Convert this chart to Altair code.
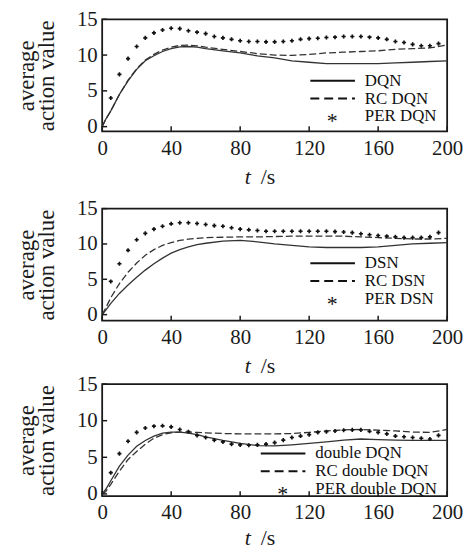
import altair as alt
import pandas as pd

# ---------------- data ----------------
t_line = [0, 2, 5, 10, 15, 20, 25, 30, 35, 40, 45, 50, 55, 60, 70, 80, 90,
          100, 110, 120, 130, 140, 150, 160, 170, 180, 190, 200]
t_dots = list(range(5, 200, 5))

dqn = [0, 1.0, 2.2, 4.5, 6.4, 8.0, 9.2, 9.9, 10.5, 10.9, 11.15, 11.2, 11.1, 10.9,
       10.6, 10.3, 9.9, 9.6, 9.2, 9.0, 8.8, 8.8, 8.8, 8.8, 8.9, 9.0, 9.1, 9.2]
rc_dqn = [0, 1.0, 2.2, 4.5, 6.5, 8.1, 9.3, 10.1, 10.7, 11.1, 11.35, 11.4, 11.3, 11.1,
          10.8, 10.5, 10.2, 10.0, 9.95, 10.1, 10.3, 10.4, 10.5, 10.6, 10.8, 10.9, 11.0, 11.4]
per_dqn = [4.0, 7.3, 9.5, 11.2, 12.4, 13.1, 13.5, 13.75, 13.7, 13.4,
           13.2, 13.0, 12.6, 12.4, 12.2, 12.0, 11.9, 11.9, 11.85, 11.85,
           11.9, 12.0, 12.2, 12.3, 12.35, 12.45, 12.5, 12.6, 12.6, 12.6,
           12.5, 12.4, 12.2, 11.9, 11.75, 11.5, 11.3, 11.3, 11.6]

dsn = [0, 0.6, 1.6, 3.0, 4.2, 5.3, 6.3, 7.2, 8.0, 8.7, 9.2, 9.6, 9.9, 10.1,
       10.4, 10.5, 10.3, 10.0, 9.8, 9.6, 9.5, 9.5, 9.5, 9.6, 9.8, 10.0, 10.1, 10.2]
rc_dsn = [0, 0.9, 2.4, 4.4, 6.0, 7.3, 8.4, 9.2, 9.8, 10.2, 10.5, 10.7, 10.8, 10.9,
          10.95, 11.0, 11.0, 11.05, 11.1, 11.1, 11.1, 11.1, 11.0, 10.9, 10.8, 10.7, 10.7, 10.8]
per_dsn = [4.7, 7.2, 9.1, 10.6, 11.5, 12.1, 12.5, 12.85, 13.0, 13.0,
           12.9, 12.75, 12.6, 12.5, 12.3, 12.1, 12.0, 11.9, 11.8, 11.8,
           11.8, 11.8, 11.8, 11.8, 11.8, 11.8, 11.75, 11.7, 11.6, 11.45,
           11.3, 11.2, 11.1, 11.0, 10.9, 10.9, 10.9, 11.0, 11.6]

ddqn = [0, 0.6, 1.8, 3.8, 5.3, 6.5, 7.3, 7.9, 8.3, 8.45, 8.45, 8.3, 8.1, 7.8,
        7.3, 6.9, 6.6, 6.55, 6.7, 6.9, 7.1, 7.35, 7.5, 7.4, 7.35, 7.3, 7.3, 7.3]
rc_ddqn = [0, 0.3, 1.3, 3.1, 4.7, 5.8, 6.8, 7.6, 8.1, 8.35, 8.45, 8.45, 8.4, 8.35,
           8.25, 8.2, 8.2, 8.2, 8.25, 8.4, 8.6, 8.75, 8.8, 8.7, 8.6, 8.45, 8.4, 8.8]
per_ddqn = [2.9, 5.5, 7.2, 8.4, 9.0, 9.25, 9.3, 9.15, 8.8, 8.5,
            8.0, 7.7, 7.35, 7.1, 6.8, 6.7, 6.65, 6.7, 6.8, 7.0,
            7.35, 7.7, 7.9, 8.1, 8.4, 8.5, 8.6, 8.7, 8.75, 8.75,
            8.55, 8.4, 8.2, 7.9, 7.8, 7.7, 7.6, 7.5, 8.0]

names_1 = ["DQN", "RC DQN", "PER DQN"]
names_2 = ["DSN", "RC DSN", "PER DSN"]
names_3 = ["double DQN", "RC double DQN", "PER double DQN"]

x_ticks = [0, 40, 80, 120, 160, 200]
y_ticks = [0, 5, 10, 15]
y_title = ["average", "action value"]

# ---------------- layout ----------------
W, H = 348, 113
FONT = "Liberation Serif"
INK = "#1a1a1a"


def panel(solid, dashed, dots, names, ymin, leg_top, leg_x0, xt_off):
    xs = alt.Scale(domain=[0, 200], nice=False, zero=False)
    ys = alt.Scale(domain=[ymin, 15], nice=False, zero=False)
    x_axis = alt.Axis(values=x_ticks, ticks=False, domain=False, grid=False,
                      labelFont=FONT, labelFontSize=21, labelColor=INK,
                      labelPadding=6, title=None, labelFlush=False,
                      labelOverlap=False)
    y_axis = alt.Axis(values=y_ticks, ticks=False, domain=False, grid=False,
                      labelFont=FONT, labelFontSize=21, labelColor=INK,
                      labelPadding=5, labelOverlap=False, labelFlush=False,
                      title=y_title, titleFont=FONT,
                      titleFontSize=23, titleFontWeight="normal",
                      titleColor=INK, titleLineHeight=20, titlePadding=18)

    X = lambda f: alt.X(f, scale=xs, axis=x_axis)
    Y = lambda f: alt.Y(f, scale=ys, axis=y_axis)

    df_l = pd.DataFrame({"t": t_line, "a": solid, "b": dashed})
    df_d = pd.DataFrame({"t": t_dots, "v": dots})

    solid_l = alt.Chart(df_l).mark_line(color="#333", strokeWidth=1.3).encode(
        x=X("t:Q"), y=Y("a:Q"))
    dash_l = alt.Chart(df_l).mark_line(color="#333", strokeWidth=1.3,
                                       strokeDash=[7, 3]).encode(
        x=X("t:Q"), y=Y("b:Q"))
    pts = alt.Chart(df_d).mark_point(shape="cross", filled=True, color="#111",
                                     size=17, opacity=1).encode(
        x=X("t:Q"), y=Y("v:Q"))

    xt = alt.Chart(pd.DataFrame({"t": x_ticks})).mark_rule(
        color=INK, strokeWidth=1.5).encode(
        x=X("t:Q"), y=alt.value(H), y2=alt.value(H - 5))
    yt = alt.Chart(pd.DataFrame({"v": y_ticks})).mark_rule(
        color=INK, strokeWidth=1.5).encode(
        y=Y("v:Q"), x=alt.value(0), x2=alt.value(5))

    # legend (drawn inside the plot)
    dy = 18
    lg = []
    lg.append(alt.Chart().mark_rule(color="#111", strokeWidth=2).encode(
        x=alt.value(leg_x0), x2=alt.value(leg_x0 + 45), y=alt.value(leg_top)))
    lg.append(alt.Chart().mark_rule(color="#111", strokeWidth=2,
                                    strokeDash=[9, 5]).encode(
        x=alt.value(leg_x0), x2=alt.value(leg_x0 + 45),
        y=alt.value(leg_top + dy)))
    lg.append(alt.Chart().mark_text(text="*", font=FONT, fontSize=22,
                                    color="#111", baseline="middle").encode(
        x=alt.value(leg_x0 + 22), y=alt.value(leg_top + 2 * dy + 5)))
    for i, nm in enumerate(names):
        lg.append(alt.Chart().mark_text(text=nm, font=FONT, fontSize=17,
                                        color="#111", align="left",
                                        baseline="middle").encode(
            x=alt.value(leg_x0 + 55), y=alt.value(leg_top + i * dy)))

    # x title "t /s" with italic t
    tt = alt.Chart().mark_text(text="t", font=FONT, fontSize=22, fontStyle="italic",
                               color=INK, align="right", baseline="middle").encode(
        x=alt.value(150), y=alt.value(H + xt_off))
    ts = alt.Chart().mark_text(text="/s", font=FONT, fontSize=22,
                               color=INK, align="left", baseline="middle").encode(
        x=alt.value(160), y=alt.value(H + xt_off))

    return alt.layer(solid_l, dash_l, pts, xt, yt, *lg, tt, ts).properties(
        width=W, height=H)


p1 = panel(dqn, rc_dqn, per_dqn, names_1, -0.65, 62, 210, 46)
p2 = panel(dsn, rc_dsn, per_dsn, names_2, -0.85, 55, 210, 46)
p3 = panel(ddqn, rc_ddqn, per_ddqn, names_3, -0.3, 70, 160, 42)

chart = alt.vconcat(alt.vconcat(p1, p2, spacing=8), p3, spacing=-6).properties(
    padding={"left": 7, "top": -3, "right": 0, "bottom": 0}
).configure_view(stroke=INK, strokeWidth=1.8)

chart.save("out.html", embed_options={"renderer": "svg", "actions": False})
